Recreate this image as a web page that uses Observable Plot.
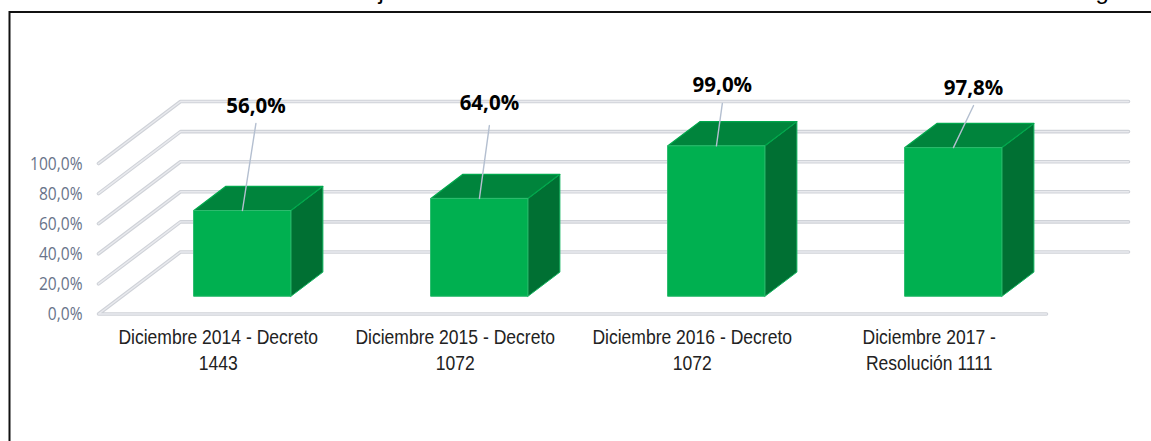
<!DOCTYPE html>
<html><head><meta charset="utf-8">
<script src="https://cdn.jsdelivr.net/npm/d3@7"></script>
<script src="https://cdn.jsdelivr.net/npm/@observablehq/plot@0.6"></script>
<style>html,body{margin:0;padding:0;background:#fff;overflow:hidden}svg{display:block}</style>
</head><body><div id="chart"></div>
<script>
const categories = ["Diciembre 2014 - Decreto\n1443","Diciembre 2015 - Decreto\n1072","Diciembre 2016 - Decreto\n1072","Diciembre 2017 -\nResolución 1111"];
const values = [56.0,64.0,99.0,97.8];
const valueLabels = ["56,0%","64,0%","99,0%","97,8%"];
const yTicks = [0,20,40,60,80,100];
const labelShift = [0.057,0.042,0.025,0.085];
const labelLevel = [137.9,139.9,151.8,150.1];
const leaderLevel = [126.6,125.2,139.9,138.5];

// px-per-unit of the oblique projection
const stepPx = 237, unitPx = 1.505, axisX = 98, axisY = 313.5, W = 1151, H = 441;
const depthX = 82/stepPx, depthY = 62/unitPx, nCats = 4;
const zFront = 0.31, zBack = 0.70, halfBar = 48.5/stepPx, baseV = -1;
const P = (u,v,z=0) => ({u:u+z*depthX, v:v+z*depthY});

const gridPaths = yTicks.flatMap(t => {
  const pts = [P(0,t,0),P(0,t,1),P(nCats,t,1)];
  if (t===0) pts.unshift(P(nCats,0,0));
  return pts.map(p => ({...p,id:t}));
});
const poly = (id,pts) => pts.map(p => ({...p,id}));
const fronts=[], tops=[], sides=[], leaders=[], labels=[];
values.forEach((v,i) => {
  const l=i+0.5-halfBar, r=i+0.5+halfBar, c=i+0.5;
  fronts.push(...poly(i,[P(l,baseV,zFront),P(r,baseV,zFront),P(r,v,zFront),P(l,v,zFront)]));
  tops.push(...poly(i,[P(l,v,zFront),P(r,v,zFront),P(r,v,zBack),P(l,v,zBack)]));
  sides.push(...poly(i,[P(r,baseV,zFront),P(r,baseV,zBack),P(r,v,zBack),P(r,v,zFront)]));
  const e=P(c,v,zFront);
  leaders.push({id:i,u:e.u,v:e.v},{id:i,u:e.u+labelShift[i],v:leaderLevel[i]});
  labels.push({u:e.u+labelShift[i],v:labelLevel[i],t:valueLabels[i]});
});
const catRows = categories.map((t,i)=>({u:i+0.505,t}));
const pct = d => d.toFixed(1).replace(".",",")+"%";
const gridFont = "'Open Sans','Noto Sans',sans-serif";
const narrow = "'Liberation Sans',sans-serif";

const chart = Plot.plot({
  width:W,height:H,margin:0,
  style:{background:"#fff",overflow:"hidden"},
  x:{domain:[-axisX/stepPx,(W-axisX)/stepPx],range:[0,W],axis:null},
  y:{domain:[(axisY-H)/unitPx,axisY/unitPx],range:[H,0],axis:null},
  marks:[
    Plot.text(["j"],{frameAnchor:"top-left",text:d=>d,dx:378,dy:-19,lineAnchor:"top",fontFamily:"'Liberation Sans'",fontSize:24,fill:"#000",textAnchor:"start"}),
    Plot.text(["g"],{frameAnchor:"top-left",text:d=>d,dx:1095,dy:-19,lineAnchor:"top",fontFamily:"'Liberation Sans'",fontSize:24,fill:"#000",textAnchor:"start"}),
    Plot.ruleY([(axisY-11.5)/unitPx],{stroke:"#111",strokeWidth:2,x1:(9-axisX)/stepPx,x2:(W-axisX)/stepPx}),
    Plot.ruleX([(9-axisX)/stepPx],{stroke:"#111",strokeWidth:2,y1:(axisY-H)/unitPx,y2:(axisY-11)/unitPx}),
    Plot.line(gridPaths,{x:"u",y:"v",z:"id",stroke:"#cfd2d8",strokeWidth:3.6,strokeLinecap:"round",strokeLinejoin:"round"}),
    Plot.line(gridPaths,{x:"u",y:"v",z:"id",stroke:"#e9eaee",strokeWidth:1.4,strokeLinecap:"round",strokeLinejoin:"round"}),
    Plot.line(sides,{x:"u",y:"v",z:"id",curve:"linear-closed",fill:"#007033",stroke:"#12b45e",strokeWidth:1}),
    Plot.line(tops,{x:"u",y:"v",z:"id",curve:"linear-closed",fill:"#00843c",stroke:"#00a84c",strokeWidth:1.2}),
    Plot.line(fronts,{x:"u",y:"v",z:"id",curve:"linear-closed",fill:"#00b050",stroke:"#2dbb6e",strokeWidth:1}),
    Plot.line(leaders,{x:"u",y:"v",z:"id",stroke:"#b4bfd0",strokeWidth:1.4}),
    Plot.text(labels,{x:"u",y:"v",text:"t",fontFamily:gridFont,fontWeight:700,fontSize:20.5,fill:"#000"}),
    Plot.axisY({anchor:"left",ticks:yTicks,tickSize:0,tickPadding:0,dx:82,dy:0.5,tickFormat:pct,fontFamily:gridFont,fontSize:18,fontWeight:400,color:"#69748a",label:null}),
    Plot.text(catRows,{className:"cat",x:"u",y:(axisY-337)/unitPx,text:"t",lineAnchor:"middle",lineHeight:1.245,dy:11.5,fontFamily:narrow,fontSize:20.5,fill:"#222"})
  ]
});
// condense text, as in the narrow faces of the reference
const squeeze = (sel,k) => d3.select(chart).selectAll(sel).attr("transform",function(){return (this.getAttribute("transform")||"")+` scale(${k},1)`;});
squeeze(".cat text",0.855);
squeeze('[aria-label="y-axis tick label"] text',0.865);
d3.select(chart).selectAll('[aria-label="y-axis tick label"]').attr("fill","#69748a");
document.getElementById("chart").append(chart);
</script>
</body></html>
